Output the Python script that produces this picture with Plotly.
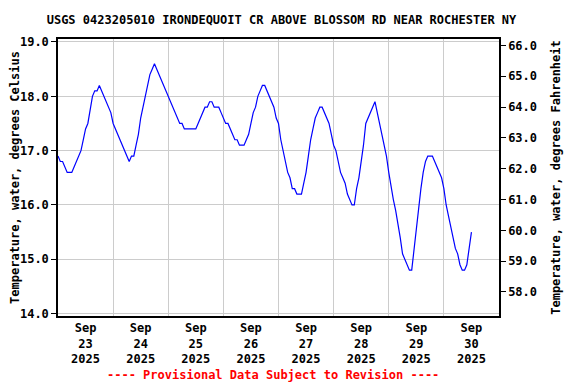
import pandas as pd
import plotly.graph_objects as go

title_text = "USGS 0423205010 IRONDEQUOIT CR ABOVE BLOSSOM RD NEAR ROCHESTER NY"
start_time = "2025-09-23 00:00"
# hourly water temperature, degrees Celsius
temps_c = [
    16.9, 16.8, 16.8, 16.7, 16.6, 16.6, 16.6, 16.7, 16.8, 16.9, 17.0, 17.2,
    17.4, 17.5, 17.8, 18.0, 18.1, 18.1, 18.2, 18.1, 18.0, 17.9, 17.8, 17.7,
    17.5, 17.4, 17.3, 17.2, 17.1, 17.0, 16.9, 16.8, 16.9, 16.9, 17.1, 17.3,
    17.6, 17.8, 18.0, 18.2, 18.4, 18.5, 18.6, 18.5, 18.4, 18.3, 18.2, 18.1,
    18.0, 17.9, 17.8, 17.7, 17.6, 17.5, 17.5, 17.4, 17.4, 17.4, 17.4, 17.4,
    17.4, 17.5, 17.6, 17.7, 17.8, 17.8, 17.9, 17.9, 17.8, 17.8, 17.8, 17.7,
    17.6, 17.5, 17.5, 17.4, 17.3, 17.2, 17.2, 17.1, 17.1, 17.1, 17.2, 17.3,
    17.5, 17.7, 17.8, 18.0, 18.1, 18.2, 18.2, 18.1, 18.0, 17.9, 17.8, 17.6,
    17.5, 17.2, 17.0, 16.8, 16.6, 16.5, 16.3, 16.3, 16.2, 16.2, 16.2, 16.4,
    16.6, 16.9, 17.2, 17.4, 17.6, 17.7, 17.8, 17.8, 17.7, 17.6, 17.5, 17.3,
    17.1, 17.0, 16.8, 16.6, 16.5, 16.4, 16.2, 16.1, 16.0, 16.0, 16.3, 16.5,
    16.8, 17.1, 17.5, 17.6, 17.7, 17.8, 17.9, 17.7, 17.5, 17.3, 17.1, 16.9,
    16.6, 16.3, 16.1, 15.9, 15.6, 15.4, 15.1, 15.0, 14.9, 14.8, 14.8, 15.2,
    15.6, 15.9, 16.3, 16.6, 16.8, 16.9, 16.9, 16.9, 16.8, 16.7, 16.6, 16.5,
    16.3, 16.0, 15.8, 15.6, 15.4, 15.2, 15.1, 14.9, 14.8, 14.8, 14.9, 15.2,
    15.5,
]
c_ticks = [14.0, 15.0, 16.0, 17.0, 18.0, 19.0]
f_ticks = [58.0, 59.0, 60.0, 61.0, 62.0, 63.0, 64.0, 65.0, 66.0]

times = pd.date_range(start_time, periods=len(temps_c), freq="h")

FONT = "DejaVu Sans Mono"
W, H = 568, 376  # page body adds an 8px offset at left/top
fig = go.Figure()
fig.add_trace(go.Scatter(x=times, y=temps_c, mode="lines",
                         line=dict(color="#0000ff", width=1.2),
                         showlegend=False, hoverinfo="skip"))
fig.add_trace(go.Scatter(x=[times[0]], y=[None], yaxis="y2", mode="lines",
                         showlegend=False, hoverinfo="skip"))

fig.update_layout(
    width=W, height=H,
    margin=dict(l=50, r=77, t=31, b=68, autoexpand=False),
    paper_bgcolor="white", plot_bgcolor="white",
    font=dict(family=FONT, size=12, color="black", weight="bold"),
    title=dict(text=title_text, x=273.5 / W, xanchor="center", xref="container",
               y=1 - 12 / H, yanchor="middle", yref="container",
               font=dict(family=FONT, size=12, weight="bold", color="black")),
    xaxis=dict(
        type="date",
        range=["2025-09-23 00:00", "2025-10-01 00:00"],
        tick0="2025-09-23", dtick=86400000,
        tickformat="%b<br>%d<br>%Y", ticklabelmode="period",
        showgrid=True, gridcolor="#cccccc", gridwidth=1,
        showline=True, linecolor="black", linewidth=1.5, mirror=True,
        ticks="", zeroline=False,
        tickfont=dict(family=FONT, size=12, weight="bold"),
    ),
    yaxis=dict(
        range=[13.956, 19.055],
        tickvals=c_ticks, tickformat=".1f",
        showgrid=True, gridcolor="#cccccc", gridwidth=1,
        showline=True, linecolor="black", linewidth=1.5, mirror=True,
        ticks="outside", ticklen=5, tickcolor="black", zeroline=False,
        tickfont=dict(family=FONT, size=12, weight="bold"),
        title=dict(text="Temperature, water, degrees Celsius", standoff=9,
                   font=dict(family=FONT, size=12, weight="bold")),
    ),
    yaxis2=dict(
        overlaying="y", side="right",
        range=[57.22, 66.21],
        tickvals=f_ticks, tickformat=".1f",
        showgrid=False, zeroline=False,
        showline=True, linecolor="black", linewidth=1.5,
        ticks="outside", ticklen=5, tickcolor="black",
        tickfont=dict(family=FONT, size=12, weight="bold"),
        title=dict(text="Temperature, water, degrees Fahrenheit", standoff=16,
                   font=dict(family=FONT, size=12, weight="bold")),
    ),
    annotations=[dict(
        text="---- Provisional Data Subject to Revision ----",
        x=0.488, xref="paper", xanchor="center",
        y=-59 / 277, yref="paper", yanchor="middle", showarrow=False,
        font=dict(family=FONT, size=12, color="red", weight="bold"),
    )],
)

fig.write_html("out.html")
